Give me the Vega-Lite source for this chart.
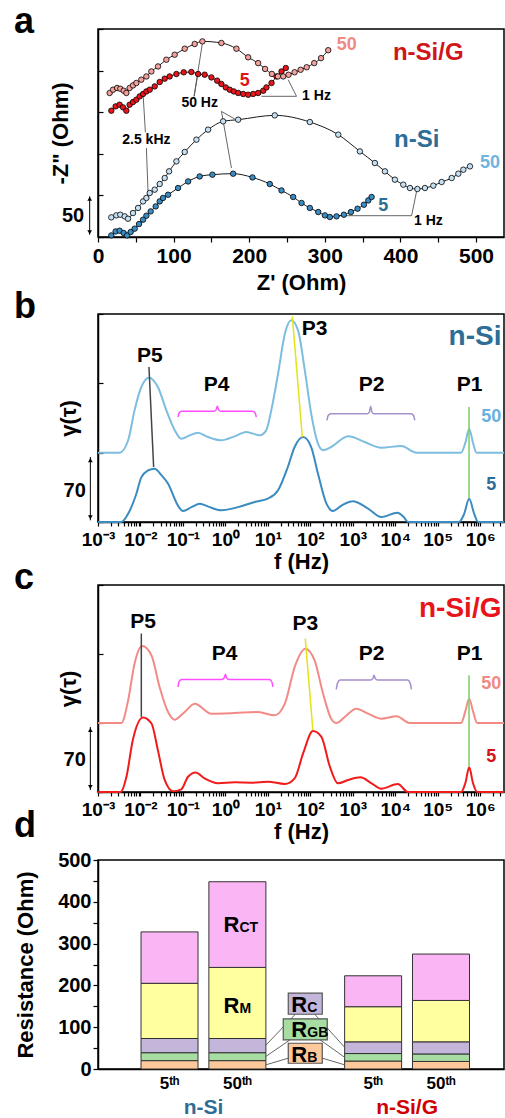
{
"$schema": "https://vega.github.io/schema/vega-lite/v6.json",
"padding": {"left": 13, "top": 3, "right": 0, "bottom": 0},
"background": "white",
"config": {
  "font": "Liberation Sans",
  "view": {"stroke": "black", "strokeWidth": 1.5},
  "axis": {"grid": false, "domainColor": "black", "domainWidth": 1.5, "tickColor": "black", "tickWidth": 1.2, "labelColor": "black", "titleColor": "black", "labelFont": "Liberation Sans", "titleFont": "Liberation Sans", "labelFontWeight": "bold", "titleFontWeight": "bold", "labelFlush": false, "labelOverlap": false},
  "title": {"font": "Liberation Sans", "fontSize": 36, "fontWeight": "bold", "anchor": "start", "frame": "group", "dx": -84, "baseline": "alphabetic", "color": "black"},
  "text": {"font": "Liberation Sans", "fontWeight": "bold"}
},
"datasets": {
  "nyq": [
    {"s":"S5","x":17.6,"y":1.9},{"s":"S5","x":23.3,"y":6.7},{"s":"S5","x":28.6,"y":7.6},{"s":"S5","x":34,"y":4.8},{"s":"S5","x":38.4,"y":1.9},{"s":"S5","x":43.2,"y":6},{"s":"S5","x":48.5,"y":10},{"s":"S5","x":54.3,"y":15.6},{"s":"S5","x":59.6,"y":20.8},{"s":"S5","x":64,"y":25.6},{"s":"S5","x":69.7,"y":30.8},{"s":"S5","x":76.3,"y":36.8},{"s":"S5","x":81.6,"y":42.8},{"s":"S5","x":86,"y":46.9},{"s":"S5","x":92.7,"y":50.8},{"s":"S5","x":105.9,"y":58.9},{"s":"S5","x":119.2,"y":66.8},{"s":"S5","x":134.5,"y":72.8},{"s":"S5","x":151.3,"y":74.9},{"s":"S5","x":178.7,"y":76.1},{"s":"S5","x":204.3,"y":71.6},{"s":"S5","x":227.2,"y":63.7},{"s":"S5","x":242.7,"y":56},{"s":"S5","x":258.2,"y":48.1},{"s":"S5","x":269.2,"y":40.9},{"s":"S5","x":280.2,"y":34.9},{"s":"S5","x":291.3,"y":30},{"s":"S5","x":300.1,"y":26},{"s":"S5","x":306.7,"y":24},{"s":"S5","x":315.5,"y":24.8},{"s":"S5","x":325.2,"y":26.8},{"s":"S5","x":334.5,"y":30},{"s":"S5","x":343.3,"y":34},{"s":"S5","x":351.7,"y":38.8},{"s":"S5","x":357.5,"y":44},{"s":"S5","x":361.9,"y":48.1},
    {"s":"S50","x":17.6,"y":23.6},{"s":"S50","x":24.2,"y":26},{"s":"S50","x":29.5,"y":26.8},{"s":"S50","x":35.3,"y":24.8},{"s":"S50","x":39.7,"y":22},{"s":"S50","x":46.3,"y":28.8},{"s":"S50","x":53,"y":34.9},{"s":"S50","x":59.6,"y":42.8},{"s":"S50","x":64,"y":46.9},{"s":"S50","x":68.4,"y":52.9},{"s":"S50","x":75,"y":56.9},{"s":"S50","x":81.6,"y":63.7},{"s":"S50","x":88.2,"y":70.9},{"s":"S50","x":94,"y":78.9},{"s":"S50","x":103.7,"y":90.9},{"s":"S50","x":114.7,"y":102.2},{"s":"S50","x":130.2,"y":117},{"s":"S50","x":145.6,"y":129},{"s":"S50","x":165.5,"y":139},{"s":"S50","x":185.4,"y":141},{"s":"S50","x":233.8,"y":146.2},{"s":"S50","x":280.2,"y":138.2},{"s":"S50","x":317.8,"y":123},{"s":"S50","x":346.4,"y":102.9},{"s":"S50","x":366.2,"y":88.9},{"s":"S50","x":379.5,"y":78.9},{"s":"S50","x":392.7,"y":68.9},{"s":"S50","x":403.8,"y":62.9},{"s":"S50","x":412.6,"y":58.9},{"s":"S50","x":422.4,"y":57.7},{"s":"S50","x":432.4,"y":58.9},{"s":"S50","x":443.5,"y":61.7},{"s":"S50","x":454.5,"y":66.1},{"s":"S50","x":467.8,"y":70.9},{"s":"S50","x":476.6,"y":76.1},{"s":"S50","x":483.2,"y":80.9},{"s":"S50","x":492,"y":84.9},
    {"s":"G5","x":17.6,"y":151.8},{"s":"G5","x":23.3,"y":157},{"s":"G5","x":28.6,"y":159},{"s":"G5","x":33.1,"y":155.8},{"s":"G5","x":37.5,"y":151.8},{"s":"G5","x":41.8,"y":159},{"s":"G5","x":46.3,"y":162.2},{"s":"G5","x":50.7,"y":165},{"s":"G5","x":55.1,"y":169},{"s":"G5","x":59.6,"y":171.9},{"s":"G5","x":64,"y":175},{"s":"G5","x":68.4,"y":177},{"s":"G5","x":75,"y":181},{"s":"G5","x":81.6,"y":186.3},{"s":"G5","x":88.2,"y":190.3},{"s":"G5","x":94.8,"y":193},{"s":"G5","x":103.7,"y":195.9},{"s":"G5","x":113.4,"y":197.9},{"s":"G5","x":123.5,"y":198.3},{"s":"G5","x":132.4,"y":195.9},{"s":"G5","x":141.1,"y":195.1},{"s":"G5","x":150,"y":191.8},{"s":"G5","x":157.6,"y":187.9},{"s":"G5","x":163.2,"y":183.9},{"s":"G5","x":169,"y":179.8},{"s":"G5","x":174.3,"y":177},{"s":"G5","x":179.6,"y":175},{"s":"G5","x":185.4,"y":173.1},{"s":"G5","x":192,"y":171.9},{"s":"G5","x":198.6,"y":171},{"s":"G5","x":205.2,"y":171.9},{"s":"G5","x":211.8,"y":173.1},{"s":"G5","x":218.5,"y":175.8},{"s":"G5","x":222.8,"y":179.8},{"s":"G5","x":229.5,"y":185.1},{"s":"G5","x":236.1,"y":193},{"s":"G5","x":242.7,"y":199},{"s":"G5","x":248.4,"y":203.1},
    {"s":"G50","x":15.4,"y":173.1},{"s":"G50","x":19.9,"y":177},{"s":"G50","x":25.2,"y":179.1},{"s":"G50","x":29.5,"y":178.2},{"s":"G50","x":34,"y":175.8},{"s":"G50","x":37.5,"y":173.1},{"s":"G50","x":41.8,"y":179.1},{"s":"G50","x":46.3,"y":182.2},{"s":"G50","x":50.7,"y":185.1},{"s":"G50","x":57.3,"y":189.1},{"s":"G50","x":64,"y":193},{"s":"G50","x":70.6,"y":199},{"s":"G50","x":79.4,"y":205},{"s":"G50","x":90.4,"y":213.1},{"s":"G50","x":101.4,"y":219.1},{"s":"G50","x":114.7,"y":226.3},{"s":"G50","x":127.9,"y":232},{"s":"G50","x":138.1,"y":235.1},{"s":"G50","x":163.2,"y":233.2},{"s":"G50","x":183.1,"y":226.3},{"s":"G50","x":198.6,"y":216},{"s":"G50","x":211.8,"y":209},{"s":"G50","x":221,"y":202},{"s":"G50","x":230,"y":196},{"s":"G50","x":238,"y":193},{"s":"G50","x":245,"y":193},{"s":"G50","x":252,"y":195},{"s":"G50","x":260,"y":198},{"s":"G50","x":268,"y":201},{"s":"G50","x":276,"y":204},{"s":"G50","x":286,"y":209},{"s":"G50","x":295,"y":215},{"s":"G50","x":304.5,"y":224.5}
  ],
  "arrowsA": [
    {"x":127.1,"y":169.1,"x2":138.1,"y2":233.2},{"x":127.1,"y":169.1,"x2":132.4,"y2":197.9},
    {"x":163.3,"y":151,"x2":180.9,"y2":141.8},{"x":163.3,"y":151,"x2":176.5,"y2":82.9},
    {"x":62.7,"y":125.8,"x2":59.6,"y2":172.3},{"x":64,"y":107,"x2":66.2,"y2":53.7},
    {"x":262.6,"y":169.1,"x2":216.2,"y2":169.1},{"x":262.6,"y":169.1,"x2":251.5,"y2":189.1},
    {"x":414.8,"y":25.6,"x2":317.7,"y2":25.6},{"x":414.8,"y":25.6,"x2":421.4,"y2":54.9}
  ],
  "drtB": [
    {"s":"5","f":0.001,"y":0},{"s":"5","f":0.003548,"y":0},{"s":"5","f":0.005129,"y":8.4},{"s":"5","f":0.007943,"y":28},{"s":"5","f":0.01047,"y":45},{"s":"5","f":0.01514,"y":52},{"s":"5","f":0.02138,"y":53.8},{"s":"5","f":0.03162,"y":47},{"s":"5","f":0.04467,"y":38.7},{"s":"5","f":0.07586,"y":16.8},{"s":"5","f":0.1,"y":11.1},{"s":"5","f":0.1585,"y":15},{"s":"5","f":0.2512,"y":18.5},{"s":"5","f":0.3981,"y":15.5},{"s":"5","f":0.7943,"y":11.8},{"s":"5","f":1.995,"y":15},{"s":"5","f":4.898,"y":20.2},{"s":"5","f":10,"y":23.6},{"s":"5","f":17.38,"y":32},{"s":"5","f":29.51,"y":55.5},{"s":"5","f":42.66,"y":75.7},{"s":"5","f":67.61,"y":85.8},{"s":"5","f":104.7,"y":75.7},{"s":"5","f":151.4,"y":48.8},{"s":"5","f":239.9,"y":18.5},{"s":"5","f":338.8,"y":11.1},{"s":"5","f":562.3,"y":17},{"s":"5","f":1000,"y":20.9},{"s":"5","f":2291,"y":13.5},{"s":"5","f":4677,"y":5},{"s":"5","f":11220,"y":9.4},{"s":"5","f":15850,"y":5},{"s":"5","f":19950,"y":0},{"s":"5","f":316200,"y":0},{"s":"5","f":416900,"y":8},{"s":"5","f":549500,"y":23.5},{"s":"5","f":724400,"y":8},{"s":"5","f":891300,"y":0},{"s":"5","f":3631000,"y":0},
    {"s":"50","f":0.001,"y":70},{"s":"50","f":0.003236,"y":70},{"s":"50","f":0.005129,"y":82.5},{"s":"50","f":0.007244,"y":112.7},{"s":"50","f":0.01047,"y":136.3},{"s":"50","f":0.01585,"y":145.7},{"s":"50","f":0.0257,"y":136.3},{"s":"50","f":0.04074,"y":112.7},{"s":"50","f":0.06457,"y":92.5},{"s":"50","f":0.0912,"y":84.1},{"s":"50","f":0.1445,"y":87.5},{"s":"50","f":0.2239,"y":90.2},{"s":"50","f":0.389,"y":85.8},{"s":"50","f":0.7943,"y":82.5},{"s":"50","f":1.66,"y":86.5},{"s":"50","f":3.09,"y":90.9},{"s":"50","f":6.457,"y":87.5},{"s":"50","f":9.12,"y":92.5},{"s":"50","f":12.02,"y":112.7},{"s":"50","f":17.38,"y":149.7},{"s":"50","f":25.12,"y":190},{"s":"50","f":35.48,"y":203.6},{"s":"50","f":51.29,"y":193.5},{"s":"50","f":74.13,"y":153.1},{"s":"50","f":104.7,"y":109.4},{"s":"50","f":151.4,"y":79.1},{"s":"50","f":199.5,"y":72.4},{"s":"50","f":309,"y":75.7},{"s":"50","f":776.2,"y":86.5},{"s":"50","f":1905,"y":80.8},{"s":"50","f":4677,"y":75},{"s":"50","f":13800,"y":76.7},{"s":"50","f":31620,"y":70},{"s":"50","f":354800,"y":70},{"s":"50","f":446700,"y":80},{"s":"50","f":549500,"y":94.2},{"s":"50","f":676100,"y":80},{"s":"50","f":812800,"y":70},{"s":"50","f":3631000,"y":70}
  ],
  "drtC": [
    {"s":"5","f":0.001,"y":0},{"s":"5","f":0.003388,"y":0},{"s":"5","f":0.004677,"y":15.5},{"s":"5","f":0.006607,"y":52.7},{"s":"5","f":0.01148,"y":75.6},{"s":"5","f":0.0182,"y":69.5},{"s":"5","f":0.0257,"y":42.5},{"s":"5","f":0.03715,"y":12.2},{"s":"5","f":0.05888,"y":0.7},{"s":"5","f":0.0912,"y":2.7},{"s":"5","f":0.1318,"y":15.5},{"s":"5","f":0.1995,"y":19.9},{"s":"5","f":0.3236,"y":13.8},{"s":"5","f":0.6761,"y":8.8},{"s":"5","f":1.66,"y":9.8},{"s":"5","f":4.074,"y":9.5},{"s":"5","f":10,"y":10.5},{"s":"5","f":25.12,"y":8.1},{"s":"5","f":42.66,"y":13.8},{"s":"5","f":67.61,"y":39.2},{"s":"5","f":114.8,"y":61.8},{"s":"5","f":182,"y":56},{"s":"5","f":288.4,"y":25.7},{"s":"5","f":446.7,"y":8.8},{"s":"5","f":776.2,"y":12.2},{"s":"5","f":1514,"y":14.9},{"s":"5","f":2754,"y":8.8},{"s":"5","f":4677,"y":3.4},{"s":"5","f":11480,"y":8.1},{"s":"5","f":19950,"y":0},{"s":"5","f":354800,"y":0},{"s":"5","f":446700,"y":9},{"s":"5","f":549500,"y":25},{"s":"5","f":676100,"y":9},{"s":"5","f":851100,"y":0},{"s":"5","f":3631000,"y":0},
    {"s":"50","f":0.001,"y":70},{"s":"50","f":0.003548,"y":70},{"s":"50","f":0.005129,"y":93},{"s":"50","f":0.007244,"y":130.1},{"s":"50","f":0.01096,"y":148},{"s":"50","f":0.0182,"y":138.5},{"s":"50","f":0.02818,"y":106.5},{"s":"50","f":0.04467,"y":81.1},{"s":"50","f":0.0631,"y":73.4},{"s":"50","f":0.1,"y":79.5},{"s":"50","f":0.1905,"y":89.6},{"s":"50","f":0.4677,"y":79.5},{"s":"50","f":1.66,"y":80.1},{"s":"50","f":5.888,"y":81.1},{"s":"50","f":14.45,"y":77.8},{"s":"50","f":25.12,"y":89.6},{"s":"50","f":42.66,"y":126.7},{"s":"50","f":75.86,"y":145.3},{"s":"50","f":125.9,"y":133.5},{"s":"50","f":199.5,"y":99.7},{"s":"50","f":309,"y":74.4},{"s":"50","f":407.4,"y":70},{"s":"50","f":645.7,"y":76.1},{"s":"50","f":1202,"y":84.5},{"s":"50","f":2291,"y":79.5},{"s":"50","f":4677,"y":74.4},{"s":"50","f":10720,"y":76.8},{"s":"50","f":21880,"y":70},{"s":"50","f":354800,"y":70},{"s":"50","f":446700,"y":82},{"s":"50","f":549500,"y":94.6},{"s":"50","f":676100,"y":82},{"s":"50","f":851100,"y":70},{"s":"50","f":3631000,"y":70}
  ],
  "bracesB": [
    {"s":"P4","i":1,"f":0.07656,"y":106},{"s":"P4","i":2,"f":0.08128,"y":110},{"s":"P4","i":3,"f":0.09333,"y":111.7},{"s":"P4","i":4,"f":0.5370,"y":111.7},{"s":"P4","i":5,"f":0.6026,"y":113.2},{"s":"P4","i":6,"f":0.6457,"y":116.8},{"s":"P4","i":7,"f":0.6918,"y":113.2},{"s":"P4","i":8,"f":0.7762,"y":111.7},{"s":"P4","i":9,"f":4.365,"y":111.7},{"s":"P4","i":10,"f":5.012,"y":110},{"s":"P4","i":11,"f":5.346,"y":106},
    {"s":"P2","i":1,"f":245.5,"y":102.6},{"s":"P2","i":2,"f":263,"y":107.5},{"s":"P2","i":3,"f":302,"y":109.4},{"s":"P2","i":4,"f":2188,"y":109.4},{"s":"P2","i":5,"f":2455,"y":111},{"s":"P2","i":6,"f":2630,"y":116.8},{"s":"P2","i":7,"f":2818,"y":111},{"s":"P2","i":8,"f":3162,"y":109.4},{"s":"P2","i":9,"f":23440,"y":109.4},{"s":"P2","i":10,"f":26920,"y":107.5},{"s":"P2","i":11,"f":28840,"y":102.6}
  ],
  "bracesC": [
    {"s":"P4","i":1,"f":0.07656,"y":106.7},{"s":"P4","i":2,"f":0.08128,"y":112},{"s":"P4","i":3,"f":0.09333,"y":114.1},{"s":"P4","i":4,"f":0.8318,"y":114.1},{"s":"P4","i":5,"f":0.9333,"y":115.6},{"s":"P4","i":6,"f":1,"y":119.5},{"s":"P4","i":7,"f":1.072,"y":115.6},{"s":"P4","i":8,"f":1.202,"y":114.1},{"s":"P4","i":9,"f":10.72,"y":114.1},{"s":"P4","i":10,"f":12.3,"y":112},{"s":"P4","i":11,"f":13.18,"y":106.7},
    {"s":"P2","i":1,"f":407.4,"y":104},{"s":"P2","i":2,"f":436.5,"y":110.5},{"s":"P2","i":3,"f":501.2,"y":113.5},{"s":"P2","i":4,"f":2630,"y":113.5},{"s":"P2","i":5,"f":2951,"y":115},{"s":"P2","i":6,"f":3162,"y":118.5},{"s":"P2","i":7,"f":3388,"y":115},{"s":"P2","i":8,"f":3802,"y":113.5},{"s":"P2","i":9,"f":19500,"y":113.5},{"s":"P2","i":10,"f":22390,"y":110.5},{"s":"P2","i":11,"f":23990,"y":104}
  ],
  "linesB": [
    {"s":"P5","f":0.01585,"y":156.5,"f2":0.02042,"y2":55.5},
    {"s":"P3","f":37.67,"y":207.6,"f2":64.57,"y2":85.8},
    {"s":"P1","f":544500,"y":116,"f2":544500,"y2":23.6}
  ],
  "linesC": [
    {"s":"P5","f":0.01047,"y":160.7,"f2":0.01047,"y2":76.3},
    {"s":"P3","f":75.86,"y":155.6,"f2":114.8,"y2":62.8},
    {"s":"P1","f":544500,"y":118.5,"f2":544500,"y2":25.7}
  ],
  "bars": [
    {"cat":"n-Si 5th","comp":"RB","k":1,"v":20},{"cat":"n-Si 5th","comp":"RGB","k":2,"v":19},{"cat":"n-Si 5th","comp":"RC","k":3,"v":34},{"cat":"n-Si 5th","comp":"RM","k":4,"v":132},{"cat":"n-Si 5th","comp":"RCT","k":5,"v":123},
    {"cat":"n-Si 50th","comp":"RB","k":1,"v":20},{"cat":"n-Si 50th","comp":"RGB","k":2,"v":19},{"cat":"n-Si 50th","comp":"RC","k":3,"v":34},{"cat":"n-Si 50th","comp":"RM","k":4,"v":170},{"cat":"n-Si 50th","comp":"RCT","k":5,"v":205},
    {"cat":"n-Si/G 5th","comp":"RB","k":1,"v":19},{"cat":"n-Si/G 5th","comp":"RGB","k":2,"v":18},{"cat":"n-Si/G 5th","comp":"RC","k":3,"v":28},{"cat":"n-Si/G 5th","comp":"RM","k":4,"v":84},{"cat":"n-Si/G 5th","comp":"RCT","k":5,"v":74},
    {"cat":"n-Si/G 50th","comp":"RB","k":1,"v":18},{"cat":"n-Si/G 50th","comp":"RGB","k":2,"v":18},{"cat":"n-Si/G 50th","comp":"RC","k":3,"v":29},{"cat":"n-Si/G 50th","comp":"RM","k":4,"v":99},{"cat":"n-Si/G 50th","comp":"RCT","k":5,"v":111}
  ],
  "boxes": [
    {"cat":"legend","comp":"RC","v":131,"v2":181.5},
    {"cat":"legend","comp":"RGB","v":69.5,"v2":120},
    {"cat":"legend","comp":"RB","v":13.7,"v2":61.6}
  ],
  "connL": [
    {"cat":"n-Si 50th","cat2":"legend","v":57,"v2":156},
    {"cat":"n-Si 50th","cat2":"legend","v":30,"v2":95},
    {"cat":"n-Si 50th","cat2":"legend","v":10,"v2":38}
  ],
  "connR": [
    {"cat":"legend","cat2":"n-Si/G 5th","v":156,"v2":52},
    {"cat":"legend","cat2":"n-Si/G 5th","v":95,"v2":28},
    {"cat":"legend","cat2":"n-Si/G 5th","v":38,"v2":10}
  ],
  "rlabels": [
    {"cat":"n-Si 50th","v":327,"sub":"CT"},
    {"cat":"n-Si 50th","v":135,"sub":"M"},
    {"cat":"legend","v":136.4,"sub":"C"},
    {"cat":"legend","v":76.3,"sub":"GB"},
    {"cat":"legend","v":17.5,"sub":"B"}
  ]
},
"bounds": "flush",
"spacing": 77,
"resolve": {"scale": {"color": "independent", "shape": "independent"}},
"vconcat": [
{
  "width": 406, "height": 208,
  "title": {"text": "a", "offset": -13},
  "encoding": {
    "x": {"field": "x", "type": "quantitative", "scale": {"domain": [0, 537], "nice": false, "zero": false},
          "axis": {"values": [0,50,100,150,200,250,300,350,400,450,500], "labelExpr": "datum.value % 100 === 0 ? datum.label : ''", "labelFontSize": 21, "tickSize": 5, "labelPadding": 3, "title": "Z' (Ohm)", "titleFontSize": 22, "titlePadding": 6}},
    "y": {"field": "y", "type": "quantitative", "scale": {"domain": [0, 250], "nice": false},
          "axis": {"values": [0,50,100,150,200,250], "labels": false, "tickSize": -5, "title": "-Z\" (Ohm)", "titleFontSize": 22, "titlePadding": 25}}
  },
  "layer": [
    {"data": {"name": "arrowsA"}, "mark": {"type": "rule", "color": "#555555", "strokeWidth": 0.9}, "encoding": {"x2": {"field": "x2"}, "y2": {"field": "y2"}}},
    {"data": {"name": "nyq"}, "mark": {"type": "line", "color": "black", "strokeWidth": 0.9, "interpolate": "monotone"}, "encoding": {"detail": {"field": "s"}}},
    {"data": {"name": "nyq"}, "mark": {"type": "circle", "size": 30, "stroke": "black", "strokeWidth": 0.8, "opacity": 1},
     "encoding": {"color": {"field": "s", "type": "nominal", "scale": {"domain": ["S5","S50","G5","G50","tS5","tS50","tG5","tG50"], "range": ["#3a8cc3","#c5e0f2","#e8151b","#f3a19d","#2e6e96","#6fb4de","#e0161b","#f08a84"]}, "legend": null}}},
    {"data": {"values": [{"x":134.5,"y":161,"t":"50 Hz"},{"x":289,"y":169,"t":"1 Hz"},{"x":64,"y":117,"t":"2.5 kHz"},{"x":437,"y":18.8,"t":"1 Hz"}]},
     "mark": {"type": "text", "fontSize": 14, "color": "black", "baseline": "middle"}, "encoding": {"text": {"field": "t"}}},
    {"data": {"values": [{"x":329,"y":231,"t":"50","s":"tG50"},{"x":194,"y":187,"t":"5","s":"tG5"},{"x":518.5,"y":89,"t":"50","s":"tS50"},{"x":377.3,"y":36.8,"t":"5","s":"tS5"}]},
     "mark": {"type": "text", "fontSize": 18, "baseline": "middle"}, "encoding": {"text": {"field": "t"}, "color": {"field": "s", "type": "nominal", "legend": null}}},
    {"data": {"values": [{"x":436.8,"y":221,"t":"n-Si/G"}]}, "mark": {"type": "text", "fontSize": 24, "baseline": "middle", "color": "#d0161b"}, "encoding": {"text": {"field": "t"}}},
    {"data": {"values": [{"x":421.5,"y":117,"t":"n-Si"}]}, "mark": {"type": "text", "fontSize": 24, "baseline": "middle", "color": "#2e6e96"}, "encoding": {"text": {"field": "t"}}},
    {"data": {"values": [{"x":-11,"y":2.8,"x2":-11,"y2":48.9}]}, "mark": {"type": "rule", "color": "black", "strokeWidth": 1}, "encoding": {"x2": {"field": "x2"}, "y2": {"field": "y2"}}},
    {"data": {"values": [{"x":-11,"y":46,"d":"up"},{"x":-11,"y":5.7,"d":"down"}]}, "mark": {"type": "point", "filled": true, "size": 22, "color": "black", "opacity": 1},
     "encoding": {"shape": {"field": "d", "type": "nominal", "scale": {"domain": ["up","down"], "range": ["triangle-up","triangle-down"]}, "legend": null}}},
    {"data": {"values": [{"x":-33,"y":24.8,"t":"50"}]}, "mark": {"type": "text", "fontSize": 20, "baseline": "middle", "color": "black"}, "encoding": {"text": {"field": "t"}}}
  ]
},
{
  "bounds": "flush",
  "spacing": 63,
  "resolve": {"scale": {"color": "independent", "shape": "independent"}},
  "vconcat": [
  {
    "width": 406, "height": 208,
    "title": {"text": "b", "offset": -13},
    "encoding": {
      "x": {"field": "f", "type": "quantitative", "scale": {"type": "log", "domain": [0.001, 3631000], "nice": false},
            "axis": {"values": [0.001,0.002,0.003,0.004,0.005,0.006,0.007,0.008,0.009,0.01,0.02,0.03,0.04,0.05,0.06,0.07,0.08,0.09,0.1,0.2,0.3,0.4,0.5,0.6,0.7,0.8,0.9,1,2,3,4,5,6,7,8,9,10,20,30,40,50,60,70,80,90,100,200,300,400,500,600,700,800,900,1000,2000,3000,4000,5000,6000,7000,8000,9000,10000,20000,30000,40000,50000,60000,70000,80000,90000,100000,200000,300000,400000,500000,600000,700000,800000,900000,1000000,2000000,3000000],
                     "labelExpr": "abs(log(datum.value)/LN10 - round(log(datum.value)/LN10)) < 0.01 ? ['10⁻³','10⁻²','10⁻¹','10⁰','10¹','10²','10³','10⁴','10⁵','10⁶'][round(log(datum.value)/LN10)+3] : ''",
                     "labelFontSize": 19, "tickSize": 4, "labelPadding": 4, "title": "f (Hz)", "titleFontSize": 22, "titlePadding": 2}},
      "y": {"field": "y", "type": "quantitative", "scale": {"domain": [0, 210], "nice": false},
            "axis": {"values": [0,70,140,210], "labels": false, "tickSize": -5, "title": "γ(τ)", "titleFontSize": 22, "titlePadding": 17}}
    },
    "layer": [
      {"data": {"name": "drtB"}, "mark": {"type": "line", "strokeWidth": 2, "interpolate": "monotone"},
       "encoding": {"color": {"field": "s", "type": "nominal", "scale": {"domain": ["50","5","P5","P3","P1","P4","P2","t50","t5"], "range": ["#7dbde0","#3a8bc1","#444444","#e3e31a","#7fcc6a","#ff4dff","#a58fcc","#6ab0dd","#2e6e96"]}, "legend": null}}},
      {"data": {"name": "bracesB"}, "mark": {"type": "line", "strokeWidth": 1.5, "interpolate": "monotone"},
       "encoding": {"color": {"field": "s", "type": "nominal", "legend": null}, "order": {"field": "i", "type": "quantitative"}}},
      {"data": {"name": "linesB"}, "mark": {"type": "rule", "strokeWidth": 1.5},
       "encoding": {"x2": {"field": "f2"}, "y2": {"field": "y2"}, "color": {"field": "s", "type": "nominal", "legend": null}}},
      {"data": {"values": [{"f":0.0166,"y":168,"t":"P5"},{"f":0.6166,"y":138,"t":"P4"},{"f":125.9,"y":195,"t":"P3"},{"f":2754,"y":138,"t":"P2"},{"f":562300,"y":138,"t":"P1"}]},
       "mark": {"type": "text", "fontSize": 21, "baseline": "middle", "color": "black"}, "encoding": {"text": {"field": "t"}}},
      {"data": {"values": [{"f":3162000,"y":186.8,"t":"n-Si"}]}, "mark": {"type": "text", "fontSize": 28, "align": "right", "baseline": "middle", "color": "#2e6e96"}, "encoding": {"text": {"field": "t"}}},
      {"data": {"values": [{"f":1820000,"y":106.5,"t":"50","s":"t50"},{"f":1820000,"y":37,"t":"5","s":"t5"}]},
       "mark": {"type": "text", "fontSize": 18, "baseline": "middle"}, "encoding": {"text": {"field": "t"}, "color": {"field": "s", "type": "nominal", "legend": null}}},
      {"data": {"values": [{"f":0.0006607,"y":1.7,"f2":0.0006607,"y2":65.6}]}, "mark": {"type": "rule", "color": "black", "strokeWidth": 1}, "encoding": {"x2": {"field": "f2"}, "y2": {"field": "y2"}}},
      {"data": {"values": [{"f":0.0006607,"y":62.5,"d":"up"},{"f":0.0006607,"y":4.8,"d":"down"}]}, "mark": {"type": "point", "filled": true, "size": 22, "color": "black", "opacity": 1},
       "encoding": {"shape": {"field": "d", "type": "nominal", "scale": {"domain": ["up","down"], "range": ["triangle-up","triangle-down"]}, "legend": null}}},
      {"data": {"values": [{"f":0.0002818,"y":31.3,"t":"70"}]}, "mark": {"type": "text", "fontSize": 20, "baseline": "middle", "color": "black"}, "encoding": {"text": {"field": "t"}}}
    ]
  },
  {
    "bounds": "flush",
    "spacing": 68,
    "resolve": {"scale": {"color": "independent", "shape": "independent"}},
    "vconcat": [
    {
      "width": 406, "height": 207,
      "title": {"text": "c", "offset": -13},
      "encoding": {
        "x": {"field": "f", "type": "quantitative", "scale": {"type": "log", "domain": [0.001, 3631000], "nice": false},
              "axis": {"values": [0.001,0.002,0.003,0.004,0.005,0.006,0.007,0.008,0.009,0.01,0.02,0.03,0.04,0.05,0.06,0.07,0.08,0.09,0.1,0.2,0.3,0.4,0.5,0.6,0.7,0.8,0.9,1,2,3,4,5,6,7,8,9,10,20,30,40,50,60,70,80,90,100,200,300,400,500,600,700,800,900,1000,2000,3000,4000,5000,6000,7000,8000,9000,10000,20000,30000,40000,50000,60000,70000,80000,90000,100000,200000,300000,400000,500000,600000,700000,800000,900000,1000000,2000000,3000000],
                       "labelExpr": "abs(log(datum.value)/LN10 - round(log(datum.value)/LN10)) < 0.01 ? ['10⁻³','10⁻²','10⁻¹','10⁰','10¹','10²','10³','10⁴','10⁵','10⁶'][round(log(datum.value)/LN10)+3] : ''",
                       "labelFontSize": 19, "tickSize": 4, "labelPadding": 4, "title": "f (Hz)", "titleFontSize": 22, "titlePadding": 2}},
        "y": {"field": "y", "type": "quantitative", "scale": {"domain": [0, 210], "nice": false},
              "axis": {"values": [0,70,140,210], "labels": false, "tickSize": -5, "title": "γ(τ)", "titleFontSize": 22, "titlePadding": 17}}
      },
      "layer": [
        {"data": {"name": "drtC"}, "mark": {"type": "line", "strokeWidth": 2, "interpolate": "monotone"},
         "encoding": {"color": {"field": "s", "type": "nominal", "scale": {"domain": ["50","5","P5","P3","P1","P4","P2","t50","t5"], "range": ["#f28b86","#f01b1b","#444444","#e3e31a","#7fcc6a","#ff4dff","#a58fcc","#f08a84","#d41318"]}, "legend": null}}},
        {"data": {"name": "bracesC"}, "mark": {"type": "line", "strokeWidth": 1.5, "interpolate": "monotone"},
         "encoding": {"color": {"field": "s", "type": "nominal", "legend": null}, "order": {"field": "i", "type": "quantitative"}}},
        {"data": {"name": "linesC"}, "mark": {"type": "rule", "strokeWidth": 1.5},
         "encoding": {"x2": {"field": "f2"}, "y2": {"field": "y2"}, "color": {"field": "s", "type": "nominal", "legend": null}}},
        {"data": {"values": [{"f":0.01148,"y":172.5,"t":"P5"},{"f":0.955,"y":140.4,"t":"P4"},{"f":75.86,"y":170.8,"t":"P3"},{"f":2754,"y":140.4,"t":"P2"},{"f":562300,"y":140.4,"t":"P1"}]},
         "mark": {"type": "text", "fontSize": 21, "baseline": "middle", "color": "black"}, "encoding": {"text": {"field": "t"}}},
        {"data": {"values": [{"f":3162000,"y":186,"t":"n-Si/G"}]}, "mark": {"type": "text", "fontSize": 28, "align": "right", "baseline": "middle", "color": "#e8141b"}, "encoding": {"text": {"field": "t"}}},
        {"data": {"values": [{"f":1820000,"y":109.4,"t":"50","s":"t50"},{"f":1820000,"y":35.8,"t":"5","s":"t5"}]},
         "mark": {"type": "text", "fontSize": 18, "baseline": "middle"}, "encoding": {"text": {"field": "t"}, "color": {"field": "s", "type": "nominal", "legend": null}}},
        {"data": {"values": [{"f":0.0006607,"y":2,"f2":0.0006607,"y2":66}]}, "mark": {"type": "rule", "color": "black", "strokeWidth": 1}, "encoding": {"x2": {"field": "f2"}, "y2": {"field": "y2"}}},
        {"data": {"values": [{"f":0.0006607,"y":62.9,"d":"up"},{"f":0.0006607,"y":5.1,"d":"down"}]}, "mark": {"type": "point", "filled": true, "size": 22, "color": "black", "opacity": 1},
         "encoding": {"shape": {"field": "d", "type": "nominal", "scale": {"domain": ["up","down"], "range": ["triangle-up","triangle-down"]}, "legend": null}}},
        {"data": {"values": [{"f":0.0002818,"y":32.4,"t":"70"}]}, "mark": {"type": "text", "fontSize": 20, "baseline": "middle", "color": "black"}, "encoding": {"text": {"field": "t"}}}
      ]
    },
    {
      "width": 406, "height": 209,
      "title": {"text": "d", "offset": 5},
      "resolve": {"axis": {"x": "independent"}},
      "encoding": {
        "y": {"field": "v", "type": "quantitative", "scale": {"domain": [0, 500], "nice": false},
              "axis": {"values": [0,50,100,150,200,250,300,350,400,450,500], "labelExpr": "datum.value % 100 === 0 ? datum.label : ''", "labelFontSize": 20, "tickSize": 5, "title": "Resistance (Ohm)", "titleFontSize": 22, "titlePadding": 20}}
      },
      "layer": [
        {"data": {"name": "bars"}, "mark": {"type": "bar", "stroke": "#333333", "strokeWidth": 1},
         "encoding": {
           "x": {"field": "cat", "type": "nominal", "sort": null, "scale": {"domain": ["n-Si 5th","n-Si 50th","legend","n-Si/G 5th","n-Si/G 50th"], "paddingInner": 0.16, "paddingOuter": 0.571, "align": 0.555},
                 "axis": {"orient": "bottom", "labelExpr": "datum.value === 'legend' ? '' : (indexof(datum.value, '50th') >= 0 ? '50ᵗʰ' : '5ᵗʰ')", "labelAngle": 0, "labelFontSize": 17, "ticks": false, "labelPadding": 6, "title": null}},
           "color": {"field": "comp", "type": "nominal", "scale": {"domain": ["RB","RGB","RC","RM","RCT"], "range": ["#fdc99b","#a7dca2","#c4b6db","#ffff9f","#f9b5f4"]}, "legend": null},
           "order": {"field": "k", "type": "quantitative"}}},
        {"data": {"name": "connL"}, "mark": {"type": "rule", "color": "#666666", "strokeWidth": 1, "xOffset": 28.5},
         "encoding": {"x": {"field": "cat", "type": "nominal", "axis": null}, "x2": {"field": "cat2"}, "y2": {"field": "v2"}}},
        {"data": {"name": "connR"}, "mark": {"type": "rule", "color": "#666666", "strokeWidth": 1, "x2Offset": -28.5},
         "encoding": {"x": {"field": "cat", "type": "nominal", "axis": null}, "x2": {"field": "cat2"}, "y2": {"field": "v2"}}},
        {"data": {"name": "boxes"}, "transform": [{"filter": "datum.comp !== 'RGB'"}], "mark": {"type": "bar", "width": 34, "stroke": "#555555", "strokeWidth": 1.2},
         "encoding": {"x": {"field": "cat", "type": "nominal", "axis": null}, "y2": {"field": "v2"}, "color": {"field": "comp", "type": "nominal", "legend": null}}},
        {"data": {"name": "boxes"}, "transform": [{"filter": "datum.comp === 'RGB'"}], "mark": {"type": "bar", "width": 44, "stroke": "#555555", "strokeWidth": 1.2},
         "encoding": {"x": {"field": "cat", "type": "nominal", "axis": null}, "y2": {"field": "v2"}, "color": {"field": "comp", "type": "nominal", "legend": null}}},
        {"data": {"name": "rlabels"}, "mark": {"type": "text", "fontSize": 22, "align": "right", "baseline": "alphabetic", "dx": 2, "color": "black"},
         "encoding": {"x": {"field": "cat", "type": "nominal", "axis": null}, "text": {"value": "R"}}},
        {"data": {"name": "rlabels"}, "mark": {"type": "text", "fontSize": 14, "align": "left", "baseline": "alphabetic", "dx": 2, "color": "black"},
         "encoding": {"x": {"field": "cat", "type": "nominal", "axis": null}, "text": {"field": "sub"}}},
        {"data": {"values": [{"cat": "n-Si 5th", "v": 0}, {"cat": "n-Si/G 5th", "v": 0}]}, "mark": {"type": "text", "text": ""},
         "encoding": {"x": {"field": "cat", "type": "nominal",
                            "axis": {"orient": "bottom", "values": ["n-Si 5th","n-Si/G 5th"], "labelExpr": "datum.value === 'n-Si 5th' ? 'n-Si' : 'n-Si/G'", "labelOffset": 34, "labelPadding": 27, "labelAngle": 0, "labelFontSize": 21, "ticks": false, "domain": false, "title": null,
                                     "labelColor": {"condition": {"test": "datum.value === 'n-Si 5th'", "value": "#2e6e96"}, "value": "#d00000"}}}}}
      ]
    }
    ]
  }
  ]
}
]
}
